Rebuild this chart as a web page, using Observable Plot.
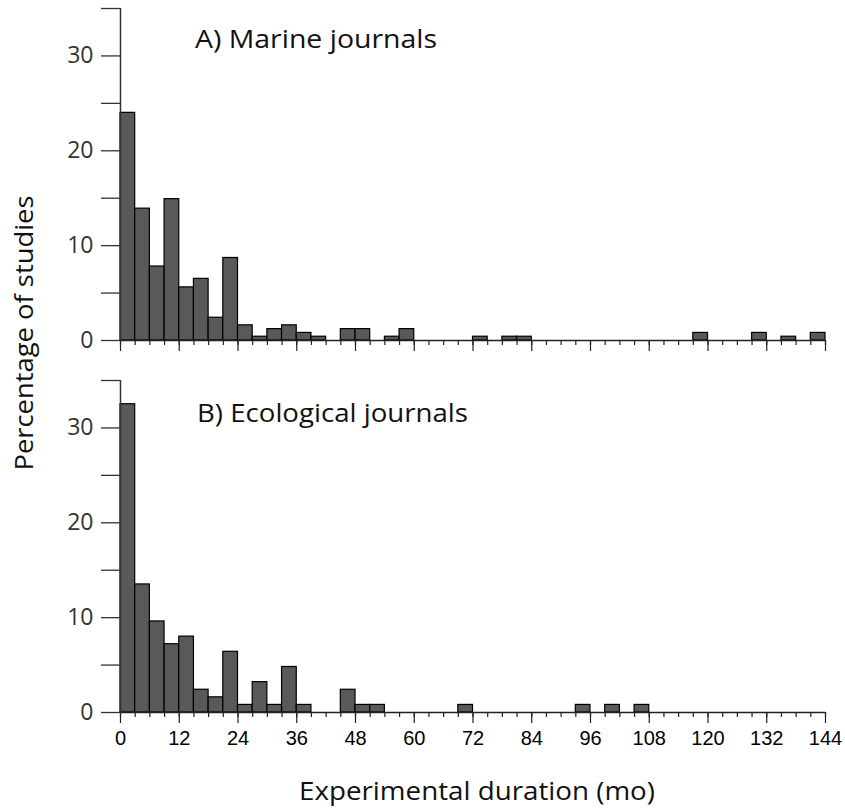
<!DOCTYPE html>
<html><head><meta charset="utf-8">
<script src="https://cdn.jsdelivr.net/npm/d3@7"></script>
<script src="https://cdn.jsdelivr.net/npm/@observablehq/plot@0.6"></script>
<style>
body{margin:0;background:#fff;}
#chart{position:relative;width:845px;height:811px;overflow:hidden;}
#chart .p{position:absolute;left:0;}
#overlay{position:absolute;left:0;top:0;pointer-events:none;}
</style></head><body>
<div id="chart"></div>
<script>
// bin starts (months), each bin 3 months wide
const binStart = [0,3,6,9,12,15,18,21,24,27,30,33,36,39,42,45,48,51,54,57,60,63,66,69,
  72,75,78,81,84,87,90,93,96,99,102,105,108,111,114,117,120,123,126,129,132,135,138,141];
const binWidth = 3;
// A) Marine journals, % of studies
const marine = [24.0,13.9,7.8,14.9,5.6,6.5,2.4,8.7,1.6,0.4,1.2,1.6,0.8,0.4,0,1.2,1.2,0,0.4,1.2,0,0,0,0,
  0.4,0,0.4,0.4,0,0,0,0,0,0,0,0,0,0,0,0.8,0,0,0,0.8,0,0.4,0,0.8];
// B) Ecological journals, % of studies
const ecological = [32.5,13.5,9.6,7.2,8.0,2.4,1.6,6.4,0.8,3.2,0.8,4.8,0.8,0,0,2.4,0.8,0.8,0,0,0,0,0,0.8,
  0,0,0,0,0,0,0,0.8,0,0.8,0,0.8,0,0,0,0,0,0,0,0,0,0,0,0];
const xMajorTicks = [0,12,24,36,48,60,72,84,96,108,120,132,144];
const xMinorTicks = binStart.concat([144]);
const yTicks = [0,5,10,15,20,25,30,35];
const yLabelTicks = [0,10,20,30];
const titleA = "A) Marine journals";
const titleB = "B) Ecological journals";
const yTitle = "Percentage of studies";
const xTitle = "Experimental duration (mo)";

function panel(values, opts) {
  const data = binStart.map((s, i) => ({x1: s, x2: s + binWidth, v: values[i]})).filter(d => d.v > 0);
  return Plot.plot({
    width: 845, height: opts.height,
    marginLeft: 120, marginRight: 20, marginTop: opts.mt, marginBottom: opts.mb,
    x: {domain: [0, 144]},
    y: {domain: [0, 35]},
    style: {background: "transparent", color: "#222", overflow: "visible"},
    marks: [
      Plot.rectY(data, {x1: "x1", x2: "x2", y: "v", fill: "#595959", stroke: "#000", strokeWidth: 1.2}),
      Plot.axisY({ticks: yTicks, tickSize: 19, tickPadding: 8,
        tickFormat: d => yLabelTicks.includes(d) ? String(d) : "",
        fontSize: 23, fontFamily: "'Open Sans', 'DejaVu Sans', sans-serif", fill: "#333",
        stroke: "#333", strokeWidth: 1.3, label: null}),
      Plot.axisX({ticks: xMinorTicks, tickSize: 5, tickFormat: () => "", stroke: "#222", strokeWidth: 1.2, label: null}),
      Plot.axisX({ticks: xMajorTicks, tickSize: 11, tickPadding: 7,
        tickFormat: opts.labels ? (d => String(d)) : (() => ""),
        fontSize: 20, fontFamily: "'Liberation Sans', Arial, sans-serif", fill: "#000",
        stroke: "#222", strokeWidth: 1.2, label: null}),
      Plot.ruleY([0], {stroke: "#222", strokeWidth: 1.5}),
      Plot.ruleX([0], {y1: 0, y2: 35, stroke: "#333", strokeWidth: 1.5})
    ]
  });
}

const chart = document.getElementById("chart");
const a = panel(marine, {height: 370, mt: 8, mb: 30, labels: false});
a.classList.add("p"); a.style.top = "0px";
const b = panel(ecological, {height: 441, mt: 10, mb: 99, labels: true});
b.classList.add("p"); b.style.top = "370px";
chart.appendChild(a); chart.appendChild(b);

// overlay text (titles)
const ns = "http://www.w3.org/2000/svg";
const ov = document.createElementNS(ns, "svg");
ov.setAttribute("id", "overlay"); ov.setAttribute("width", 845); ov.setAttribute("height", 811);
function addText(str, x, y, size, len, rot) {
  const t = document.createElementNS(ns, "text");
  t.textContent = str;
  t.setAttribute("font-family", "'Open Sans', 'Noto Sans', sans-serif");
  t.setAttribute("font-size", size);
  t.setAttribute("fill", "#111");
  t.setAttribute("textLength", len);
  t.setAttribute("lengthAdjust", "spacingAndGlyphs");
  if (rot) {
    t.setAttribute("text-anchor", "middle");
    t.setAttribute("transform", `translate(${x},${y}) rotate(-90)`);
  } else {
    t.setAttribute("x", x); t.setAttribute("y", y);
  }
  ov.appendChild(t);
}
addText(titleA, 195, 48, 25, 242);
addText(titleB, 197, 422, 25, 271);
addText(yTitle, 33, 333, 25, 275, true);
addText(xTitle, 299, 800, 25, 356);
chart.appendChild(ov);
</script>
</body></html>
